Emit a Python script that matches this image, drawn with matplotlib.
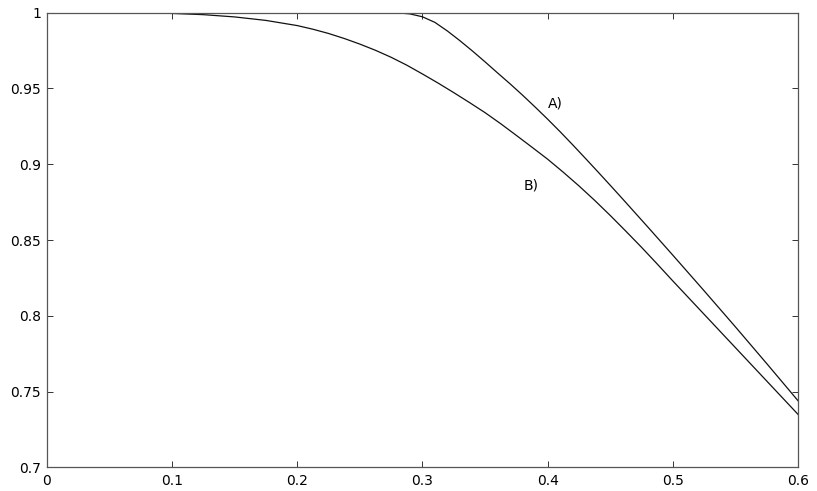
import matplotlib.pyplot as plt

plt.rcParams['font.family'] = ['DejaVu Sans']

# curve A: flat at 1 up to ~0.27, then falls off
a_x = [0.0, 0.1, 0.2, 0.27, 0.28, 0.29, 0.3, 0.31, 0.32, 0.33, 0.34, 0.35,
       0.36, 0.37, 0.38, 0.39, 0.4, 0.41, 0.42, 0.43, 0.44, 0.45, 0.46,
       0.48, 0.5, 0.525, 0.55, 0.575, 0.6]
a_y = [1.0, 1.0, 1.0, 1.0, 0.9998, 0.9991, 0.9972, 0.9935, 0.9878, 0.9814,
       0.9746, 0.9675, 0.9602, 0.9530, 0.9455, 0.9377, 0.9297, 0.9214, 0.9128,
       0.9040, 0.8951, 0.8861, 0.8770, 0.8586, 0.8400, 0.8165, 0.7927,
       0.7685, 0.7440]

# curve B: smooth roll-off from 1
b_x = [0.0, 0.025, 0.05, 0.075, 0.1, 0.125, 0.15, 0.175, 0.2, 0.2125, 0.225,
       0.2375, 0.25, 0.2625, 0.275, 0.2875, 0.3, 0.3125, 0.325, 0.3375, 0.35,
       0.3625, 0.375, 0.3875, 0.4, 0.4125, 0.425, 0.4375, 0.45, 0.4625, 0.475,
       0.4875, 0.5, 0.525, 0.55, 0.575, 0.6]
b_y = [1.0, 1.0, 0.99995, 0.9998, 0.9994, 0.9986, 0.9971, 0.9948, 0.9914,
       0.9890, 0.9862, 0.9829, 0.9792, 0.9751, 0.9705, 0.9653, 0.9595, 0.9535,
       0.9472, 0.9407, 0.9340, 0.9267, 0.9190, 0.9112, 0.9033, 0.8947, 0.8857,
       0.8762, 0.8662, 0.8558, 0.8452, 0.8342, 0.8230, 0.8010, 0.7790,
       0.7570, 0.7350]

x_ticks = [0, 0.1, 0.2, 0.3, 0.4, 0.5, 0.6]
x_labels = ['0', '0.1', '0.2', '0.3', '0.4', '0.5', '0.6']
y_ticks = [0.7, 0.75, 0.8, 0.85, 0.9, 0.95, 1.0]
y_labels = ['0.7', '0.75', '0.8', '0.85', '0.9', '0.95', '1']

fig = plt.figure(figsize=(8.17, 4.91), dpi=100)
ax = fig.add_axes([0.0572, 0.0479, 0.9196, 0.9266])

ax.plot(a_x, a_y, color='#111111', lw=0.9)
ax.plot(b_x, b_y, color='#111111', lw=0.9)

ax.text(0.400, 0.9400, 'A)', fontsize=10, va='center', ha='left')
ax.text(0.381, 0.8857, 'B)', fontsize=10, va='center', ha='left')

ax.set_xlim(0, 0.6)
ax.set_ylim(0.7, 1.0)
ax.set_xticks(x_ticks)
ax.set_xticklabels(x_labels)
ax.set_yticks(y_ticks)
ax.set_yticklabels(y_labels)

ax.tick_params(direction='in', top=True, right=True, length=4.5, width=0.7,
               color='#333333', labelsize=10, pad=4)
ax.tick_params(axis='x', pad=4.5)
for s in ax.spines.values():
    s.set_color('#555555')
    s.set_linewidth(0.9)

fig.savefig('out.png', dpi=100)
